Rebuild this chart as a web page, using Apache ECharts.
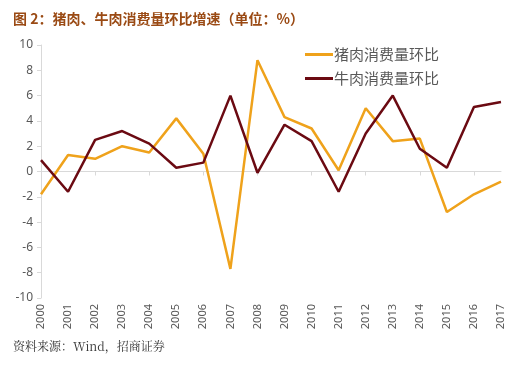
<!DOCTYPE html>
<html><head><meta charset="utf-8">
<script src="https://cdn.jsdelivr.net/npm/echarts@6/dist/echarts.min.js"></script>
<style>html,body{margin:0;padding:0;background:#fff}#c{width:523px;height:367px}</style>
</head><body><div id="c"></div>
<script>
const years = ['2000','2001','2002','2003','2004','2005','2006','2007','2008','2009','2010','2011','2012','2013','2014','2015','2016','2017'];
const porkName = '猪肉消费量环比';
const beefName = '牛肉消费量环比';
const pork = [-1.8, 1.3, 1.0, 2.0, 1.5, 4.2, 1.4, -7.7, 8.8, 4.3, 3.4, 0.1, 5.0, 2.4, 2.6, -3.2, -1.8, -0.8];
const beef = [0.9, -1.6, 2.5, 3.2, 2.2, 0.3, 0.7, 6.0, -0.1, 3.7, 2.4, -1.6, 3.0, 6.0, 1.8, 0.3, 5.1, 5.5];
const yTicks = {min: -10, max: 10, interval: 2};

const chart = echarts.init(document.getElementById('c'));
chart.setOption({
  animation: false,
  title: [
    {text: '图 2：猪肉、牛肉消费量环比增速（单位：%）', left: 8, top: 7,
     textStyle: {fontFamily: 'Noto Sans CJK SC', fontSize: 14, fontWeight: 'bold', color: '#9a4a14'}},
    {text: '资料来源：Wind，招商证券', left: 8, top: 335,
     textStyle: {fontFamily: 'Noto Serif CJK SC, serif', fontSize: 12, fontWeight: 'normal', color: '#333'}}
  ],
  legend: {
    orient: 'vertical', left: 300, top: 42, itemGap: 9,
    itemWidth: 28, itemHeight: 3, icon: 'rect',
    textStyle: {fontFamily: 'Noto Sans CJK SC', fontSize: 15, color: '#595959', padding: [0,0,0,-4]},
    data: [porkName, beefName]
  },
  grid: {left: 41, right: 22, top: 45, bottom: 69},
  xAxis: [
    {type: 'category', data: years, boundaryGap: false, position: 'bottom',
     axisLine: {onZero: true, lineStyle: {color: '#d9d9d9', width: 1}},
     axisTick: {show: true, length: 4, lineStyle: {color: '#d9d9d9'}},
     axisLabel: {show: false}},
    {type: 'category', data: years, boundaryGap: false, position: 'bottom',
     axisLine: {show: false, onZero: false}, axisTick: {show: false},
     axisLabel: {rotate: 90, margin: 6, fontSize: 11, color: '#595959', fontFamily: 'Noto Sans'}}
  ],
  yAxis: {
    type: 'value', min: yTicks.min, max: yTicks.max, interval: yTicks.interval,
    axisLine: {show: true, lineStyle: {color: '#d9d9d9'}},
    axisTick: {show: true, length: 4, lineStyle: {color: '#d9d9d9'}},
    splitLine: {show: false},
    axisLabel: {fontSize: 12, color: '#595959', margin: 8, fontFamily: 'Noto Sans'}
  },
  series: [
    {name: porkName, type: 'line', data: pork, showSymbol: false, lineStyle: {width: 2.5, color: '#efa21b'}, itemStyle: {color: '#efa21b'}},
    {name: beefName, type: 'line', data: beef, showSymbol: false, lineStyle: {width: 2.5, color: '#6b0a12'}, itemStyle: {color: '#6b0a12'}}
  ]
});
</script></body></html>
